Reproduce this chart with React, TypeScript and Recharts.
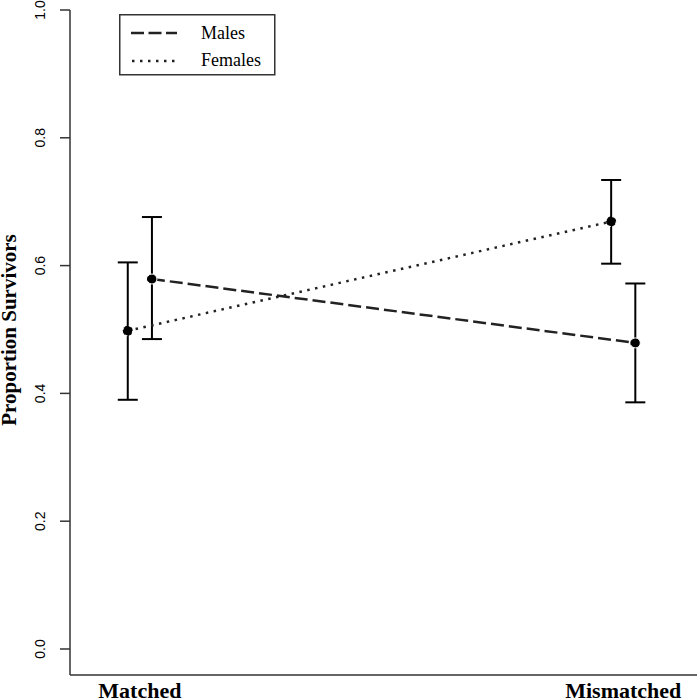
import {
  ComposedChart,
  Line,
  XAxis,
  YAxis,
  ErrorBar,
  Legend,
} from 'recharts';

const categories = ['Matched', 'Mismatched'];
const maleMeans = [0.579, 0.479];
const maleLower = [0.485, 0.386];
const maleUpper = [0.676, 0.572];
const femaleMeans = [0.498, 0.669];
const femaleLower = [0.39, 0.603];
const femaleUpper = [0.605, 0.734];
const yTicks = [0, 0.2, 0.4, 0.6, 0.8, 1.0];
const dodge = 0.025;

const buildSeries = (means: number[], lower: number[], upper: number[], shift: number) =>
  categories.map((name, i) => ({
    name,
    x: i + 1 + shift,
    y: means[i],
    err: [means[i] - lower[i], upper[i] - means[i]],
  }));

const malesData = buildSeries(maleMeans, maleLower, maleUpper, dodge);
const femalesData = buildSeries(femaleMeans, femaleLower, femaleUpper, -dodge);

const serif = '"Liberation Serif", "Times New Roman", serif';
const sans = '"Liberation Sans", Arial, sans-serif';

const YTick = ({ y, payload }: any) => (
  <text
    x={45}
    y={y}
    transform={`rotate(-90 45 ${y})`}
    textAnchor="middle"
    fontSize={14}
    fontFamily={sans}
    fill="#000"
  >
    {payload.value.toFixed(1)}
  </text>
);

const XTick = ({ x, payload }: any) => (
  <text x={x} y={698} textAnchor="middle" fontSize={22} fontWeight="bold" fontFamily={serif} fill="#000">
    {categories[payload.value - 1]}
  </text>
);

const YTitle = () => (
  <text
    x={16}
    y={330}
    transform="rotate(-90 16 330)"
    textAnchor="middle"
    fontSize={21}
    fontWeight="bold"
    fontFamily={serif}
    fill="#000"
  >
    Proportion Survivors
  </text>
);

const LegendBox = () => (
  <svg width={157} height={62} style={{ display: 'block' }}>
    <rect x={0.75} y={0.75} width={155} height={60} fill="#fff" stroke="#333" strokeWidth={1.5} />
    <line x1={12} y1={19} x2={58} y2={19} stroke="#222" strokeWidth={2.5} strokeDasharray="13 4.5" />
    <line x1={13} y1={47} x2={58} y2={47} stroke="#222" strokeWidth={2.5} strokeDasharray="2.5 5.5" />
    <text x={82} y={25} fontSize={18} fontFamily={serif} fill="#000">Males</text>
    <text x={82} y={52} fontSize={18} fontFamily={serif} fill="#000">Females</text>
  </svg>
);

export default function App() {
  return (
    <div style={{ position: 'absolute', left: 0, top: 0, background: '#fff' }}>
      <ComposedChart width={697} height={699} margin={{ top: 10, right: 0, bottom: 0, left: 0 }}>
        <XAxis
          dataKey="x"
          type="number"
          domain={[0.8555, 2.1526]}
          ticks={[1, 2]}
          tick={<XTick />}
          tickLine={false}
          axisLine={{ stroke: '#333', strokeWidth: 1.5 }}
          height={24}
          allowDataOverflow
        />
        <YAxis
          type="number"
          domain={[-0.0407, 1]}
          ticks={yTicks}
          tick={<YTick />}
          tickSize={10}
          tickLine={{ stroke: '#333', strokeWidth: 1.5 }}
          axisLine={{ stroke: '#333', strokeWidth: 1.5 }}
          width={70}
          allowDataOverflow
          label={<YTitle />}
        />
        <Legend
          content={<LegendBox />}
          layout="horizontal"
          verticalAlign="middle"
          align="center"
          wrapperStyle={{ left: 119, top: 14, width: 157, height: 62 }}
        />
        <Line
          data={malesData}
          dataKey="y"
          name="Males"
          type="linear"
          stroke="#222"
          strokeWidth={2.5}
          strokeDasharray="13 5"
          dot={{ r: 5, fill: '#000', stroke: '#fff', strokeWidth: 1 }}
          activeDot={false}
          isAnimationActive={false}
        >
          <ErrorBar dataKey="err" direction="y" width={10} stroke="#000" strokeWidth={2} />
        </Line>
        <Line
          data={femalesData}
          dataKey="y"
          name="Females"
          type="linear"
          stroke="#222"
          strokeWidth={2.5}
          strokeDasharray="2.5 5.5"
          dot={{ r: 5, fill: '#000', stroke: '#fff', strokeWidth: 1 }}
          activeDot={false}
          isAnimationActive={false}
        >
          <ErrorBar dataKey="err" direction="y" width={10} stroke="#000" strokeWidth={2} />
        </Line>
      </ComposedChart>
    </div>
  );
}
